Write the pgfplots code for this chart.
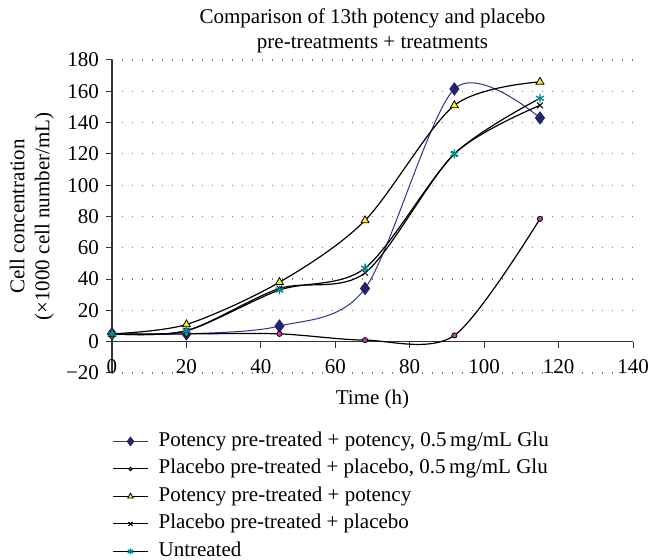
\documentclass[border=0pt]{standalone}
\usepackage{pgfplots}
\pgfplotsset{compat=1.18}
\usepackage{fontspec}
\setmainfont{Liberation Serif}

\definecolor{navyline}{RGB}{50,50,140}
\definecolor{navymark}{RGB}{35,35,110}
\definecolor{pinkmark}{RGB}{200,60,170}
\definecolor{yellowmark}{RGB}{250,235,30}
\definecolor{tealmark}{RGB}{0,140,140}
\definecolor{gridgray}{RGB}{120,120,120}

\begin{document}
\begin{tikzpicture}
\path[use as bounding box] (-56pt,-93.5pt) rectangle (268pt,186.5pt);
\begin{axis}[
    at={(0pt,0pt)}, anchor=south west,
    scale only axis,
    width=260.5pt, height=156.5pt,
    xmin=0, xmax=140,
    ymin=-20, ymax=180,
    axis y line*=left,
    axis x line*=middle,
    axis line style={line width=0.6pt, black!80},
    % tick at 0.0001 so the label at the origin is not dropped
    xtick={0.0001,20,40,60,80,100,120,140},
    xticklabels={0,20,40,60,80,100,120,140},
    ytick={-20,0,20,...,180},
    yticklabels={−20,0,20,40,60,80,100,120,140,160,180},
    tick align=outside,
    major tick length=3pt,
    tick style={black!80, line width=0.5pt},
    ymajorgrids=true,
    major grid style={gridgray, line width=0.6pt, dash pattern=on 0.6pt off 4.4pt},
    tick label style={font=\fontsize{10.5}{12.5}\selectfont},
    /pgf/number format/assume math mode=true,
    x tick label style={yshift=-2.5pt},
    title={Comparison of 13th potency and placebo\\pre-treatments + treatments},
    title style={at={(axis description cs:0.5,1.056)}, anchor=center, align=center,
        font=\fontsize{10.5}{12.5}\selectfont},
    xlabel={Time (h)},
    xlabel style={at={(axis description cs:0.5,-0.085)}, anchor=center,
        font=\fontsize{10.5}{12.5}\selectfont},
    ylabel={Cell concentration\\(×1000 cell number/mL)},
    ylabel style={at={(axis description cs:-0.154,0.5)}, anchor=center, align=center,
        font=\fontsize{10.5}{12.5}\selectfont},
    legend cell align=left,
    legend image code/.code={\draw[mark repeat=2,mark phase=2,#1,
        every mark/.append style={scale=0.7}]
        plot coordinates {(0pt,0pt)(8.75pt,0pt)(17.5pt,0pt)};},
    legend style={at={(axis description cs:0,-0.1885)}, anchor=north west,
        draw=none, fill=none, inner sep=0pt, row sep=4.75pt,
        nodes={inner sep=0pt, text height=7pt, text depth=2pt,
            font=\fontsize{10.5}{12.5}\selectfont},
        /tikz/every odd column/.append style={column sep=5pt}},
]

\addplot[smooth, navyline, line width=0.5pt,
    mark=diamond*, mark size=3pt, mark options={fill=navymark, draw=navymark}]
    coordinates {(0,5)(20,5)(45,10)(68,34)(92,161.5)(115,143)};
\addlegendentry{Potency pre-treated + potency, 0.5\,mg/mL Glu}

\addplot[smooth, black, line width=0.6pt,
    mark=*, mark size=1.3pt, mark options={fill=pinkmark, draw=black, line width=0.4pt}]
    coordinates {(0,5)(20,5)(45,5)(68,1)(92,4)(115,78.5)};
\addlegendentry{Placebo pre-treated + placebo, 0.5\,mg/mL Glu}

\addplot[smooth, black, line width=0.6pt,
    mark=triangle*, mark size=2.3pt, mark options={fill=yellowmark, draw=black, line width=0.4pt}]
    coordinates {(0,5)(20,11)(45,38)(68,77.5)(92,151)(115,166)};
\addlegendentry{Potency pre-treated + potency}

\addplot[smooth, black, line width=0.6pt,
    mark=x, mark size=2pt, mark options={black, line width=0.5pt}]
    coordinates {(0,5)(20,7)(45,34)(68,44)(92,120)(115,151)};
\addlegendentry{Placebo pre-treated + placebo}

\addplot[smooth, black, line width=0.6pt,
    mark=asterisk, mark size=2.2pt, mark options={tealmark, line width=0.7pt}]
    coordinates {(0,5)(20,7)(45,33)(68,47)(92,120)(115,155.5)};
\addlegendentry{Untreated}

\end{axis}
\end{tikzpicture}
\end{document}
